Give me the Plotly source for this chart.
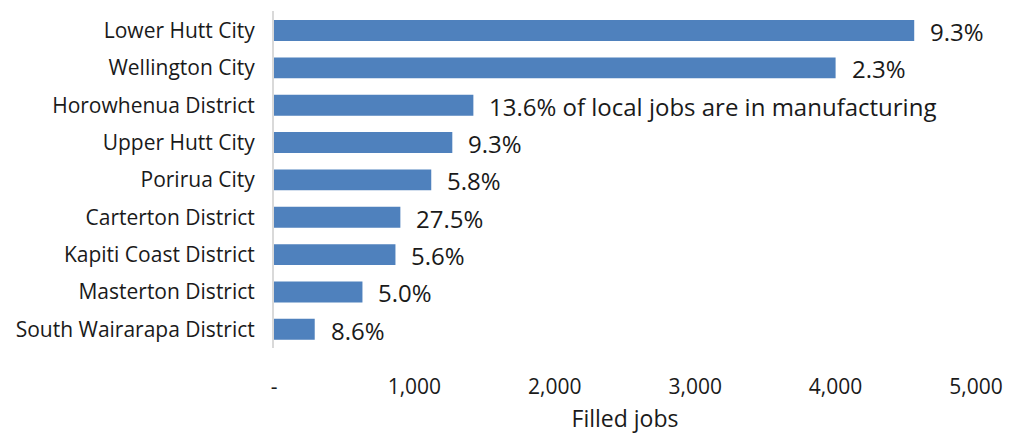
import plotly.graph_objects as go

categories = ["Lower Hutt City", "Wellington City", "Horowhenua District", "Upper Hutt City",
              "Porirua City", "Carterton District", "Kapiti Coast District",
              "Masterton District", "South Wairarapa District"]
filled_jobs = [4560, 4000, 1420, 1270, 1120, 900, 865, 630, 290]
labels = ["9.3%", "2.3%", "13.6% of local jobs are in manufacturing", "9.3%", "5.8%",
          "27.5%", "5.6%", "5.0%", "8.6%"]
tick_vals = [0, 1000, 2000, 3000, 4000, 5000]
tick_text = ["-", "1,000", "2,000", "3,000", "4,000", "5,000"]

FONT = "Open Sans"
fig = go.Figure(go.Bar(
    y=categories, x=filled_jobs, orientation="h",
    marker=dict(color="#4F81BD", line=dict(width=0)),
    width=0.56,
))

for c, v, t in zip(categories, filled_jobs, labels):
    fig.add_annotation(x=v, y=c, text=t, showarrow=False, xanchor="left",
                       xshift=14, yshift=-1, font=dict(family=FONT, size=24, color="#1a1a1a"))

fig.update_layout(
    width=1021, height=434,
    margin=dict(l=274, r=45, t=11, b=86),
    paper_bgcolor="white", plot_bgcolor="white",
    showlegend=False,
    font=dict(family=FONT, color="#1a1a1a"),
    xaxis=dict(range=[0, 5000], tickvals=tick_vals, ticktext=tick_text,
               showgrid=False, zeroline=False, showline=False, automargin=False,
               ticks="outside", ticklen=20, tickcolor="rgba(0,0,0,0)",
               tickfont=dict(size=21),
               title=dict(text="Filled jobs", font=dict(size=23), standoff=13)),
    yaxis=dict(autorange="reversed", showgrid=False, zeroline=False,
               showline=True, linecolor="#D9D9D9", linewidth=2, automargin=False,
               tickfont=dict(size=21), ticks="", ticklabelstandoff=13),
)
fig.write_html("out.html")
